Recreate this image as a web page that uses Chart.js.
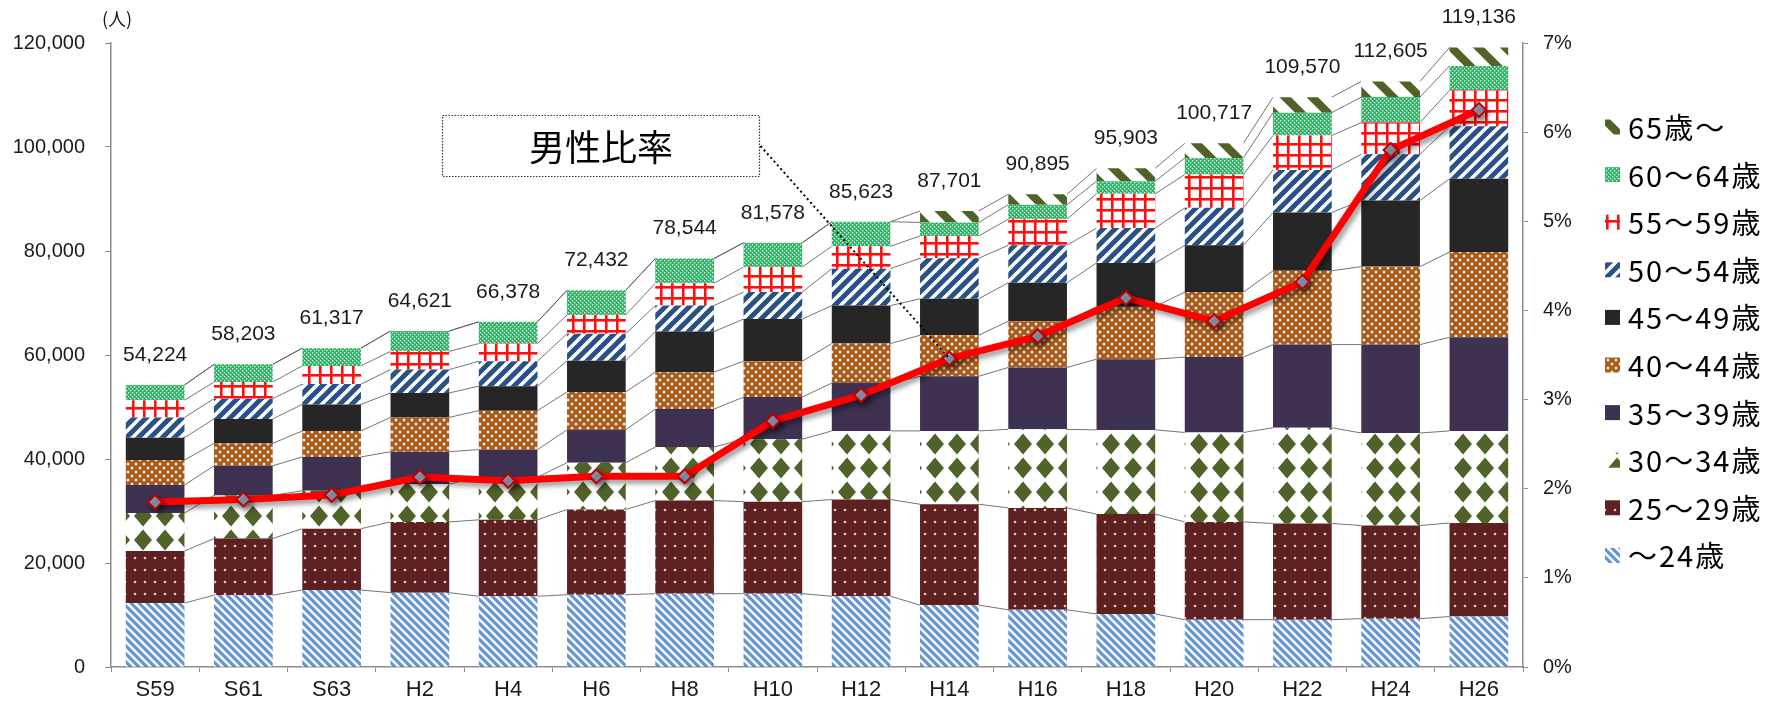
<!DOCTYPE html>
<html><head><meta charset="utf-8">
<script src="https://cdn.jsdelivr.net/npm/chart.js@4"></script>
<style>html,body{margin:0;padding:0;background:#fff;} canvas{display:block;}</style>
</head><body>
<canvas id="c" width="1781" height="703"></canvas>
<script>
// ---------- data ----------
const categories = ['S59','S61','S63','H2','H4','H6','H8','H10','H12','H14','H16','H18','H20','H22','H24','H26'];
const totals = [54224, 58203, 61317, 64621, 66378, 72432, 78544, 81578, 85623, 87701, 90895, 95903, 100717, 109570, 112605, 119136];
const age24   = [12300, 13800, 14800, 14300, 13600, 13900, 14100, 14100, 13600, 11900, 11000, 10200, 9100, 9100, 9300, 9700];
const age25_29 = [10000, 10900, 11800, 13600, 14700, 16400, 17900, 17700, 18600, 19400, 19600, 19200, 18800, 18500, 17900, 18000];
const age30_34 = [7300, 8300, 7300, 7300, 8200, 9000, 10300, 12000, 13200, 14100, 15100, 16200, 17200, 18400, 17800, 17700];
const age35_39 = [5400, 5700, 6500, 6200, 5300, 6300, 7300, 8100, 9200, 10500, 11900, 13600, 14500, 16000, 17000, 18000];
const age40_44 = [4800, 4300, 5000, 6600, 7500, 7300, 7100, 6900, 7600, 7900, 8900, 10100, 12500, 14200, 15000, 16400];
const age45_49 = [4300, 4700, 5100, 4700, 4700, 6000, 7800, 8100, 7300, 7000, 7400, 8400, 9000, 11200, 12700, 14100];
const age50_54 = [3900, 3900, 3900, 4500, 4800, 5200, 5000, 5200, 7100, 7800, 7200, 6700, 7200, 8200, 8900, 10100];
const age55_59 = [3300, 3200, 3500, 3500, 3400, 3600, 4300, 4800, 4300, 4300, 5000, 6600, 6400, 6600, 6100, 6900];
const age60_64 = [2924, 3403, 3417, 3921, 4178, 4732, 4744, 4678, 4723, 2600, 2800, 2400, 3200, 4400, 4900, 4700];
const age65    = [0, 0, 0, 0, 0, 0, 0, 0, 0, 2201, 1995, 2503, 2817, 2970, 3005, 3536];
const maleRatio = [1.85, 1.88, 1.93, 2.13, 2.09, 2.14, 2.14, 2.76, 3.05, 3.46, 3.71, 4.14, 3.88, 4.32, 5.80, 6.25];
const seriesLabels = ['～24歳','25～29歳','30～34歳','35～39歳','40～44歳','45～49歳','50～54歳','55～59歳','60～64歳','65歳～'];
const leftTicksMax = 120000, leftStep = 20000;
const rightTicksMax = 7, rightStep = 1;
const unitLabel = '(人)';
const calloutText = '男性比率';

// ---------- patterns ----------
const FONT = "'Noto Sans CJK JP', 'Liberation Sans', sans-serif";
const NUMFONT = "'Liberation Sans', 'Noto Sans CJK JP', sans-serif";
const mainCtx = document.getElementById('c').getContext('2d');
function makePattern(w, h, draw) {
  const c = document.createElement('canvas'); c.width = w; c.height = h;
  const g = c.getContext('2d'); draw(g, w, h);
  return mainCtx.createPattern(c, 'repeat');
}
function stripes(s, t, color, dir) {
  return makePattern(s, s, (g) => {
    g.fillStyle = '#fff'; g.fillRect(0, 0, s, s);
    g.strokeStyle = color; g.lineWidth = t; g.lineCap = 'square';
    for (const k of [-s, 0, s]) {
      g.beginPath();
      if (dir === '\\') { g.moveTo(k, 0); g.lineTo(k + s, s); }
      else { g.moveTo(k, s); g.lineTo(k + s, 0); }
      g.stroke();
    }
  });
}
const pat24 = stripes(8, 3.2, '#6395d6', '\\');
const pat25 = makePattern(10, 12, (g) => {
  g.fillStyle = '#5e2121'; g.fillRect(0, 0, 10, 12);
  g.fillStyle = '#e6c4c4'; g.beginPath(); g.arc(5, 6, 1.3, 0, Math.PI * 2); g.fill();
});
const pat30 = makePattern(22, 24, (g) => {
  g.fillStyle = '#fff'; g.fillRect(0, 0, 22, 24);
  g.fillStyle = '#4f6228';
  g.beginPath(); g.moveTo(11, 1.5); g.lineTo(20, 12); g.lineTo(11, 22.5); g.lineTo(2, 12); g.closePath(); g.fill();
});
const col35 = '#3f3151';
const pat40 = makePattern(8, 8, (g) => {
  g.fillStyle = '#a65a1c'; g.fillRect(0, 0, 8, 8);
  g.fillStyle = '#f4e4d2';
  for (const [x, y] of [[0,0],[8,0],[0,8],[8,8],[4,4]]) { g.beginPath(); g.arc(x, y, 1.5, 0, Math.PI * 2); g.fill(); }
});
const col45 = '#262626';
const pat50 = stripes(12, 5, '#2a5186', '/');
const pat55 = makePattern(11, 11, (g) => {
  g.fillStyle = '#fff'; g.fillRect(0, 0, 11, 11);
  g.fillStyle = '#ff1010'; g.fillRect(0, 0, 11, 2.6); g.fillRect(0, 0, 2.6, 11);
});
const pat60 = makePattern(4, 4, (g) => {
  g.fillStyle = '#33b268'; g.fillRect(0, 0, 4, 4);
  g.fillStyle = '#e4f6ea'; g.fillRect(0, 0, 1.3, 1.3); g.fillRect(2, 2, 1.3, 1.3);
});
const pat65 = stripes(27, 8, '#4f6228', '\\');

const barData = [age24, age25_29, age30_34, age35_39, age40_44, age45_49, age50_54, age55_59, age60_64, age65];
const barFills = [pat24, pat25, pat30, col35, pat40, col45, pat50, pat55, pat60, pat65];

const datasets = barData.map((d, i) => ({
  type: 'bar', label: seriesLabels[i], data: d, backgroundColor: barFills[i],
  borderWidth: 0, stack: 's', order: 1, yAxisID: 'y',
  barPercentage: 0.665, categoryPercentage: 1.0
}));
datasets.push({
  type: 'line', label: calloutText, data: maleRatio, yAxisID: 'y1', order: 0,
  borderColor: '#ff0000', borderWidth: 7, tension: 0,
  pointStyle: 'rectRot', pointRadius: 7, pointBackgroundColor: '#8b9cb6',
  pointBorderColor: '#c00000', pointBorderWidth: 2
});
const LINE_INDEX = datasets.length - 1;

// ---------- plugins ----------
const seriesLinesPlugin = {
  id: 'seriesLines',
  beforeDatasetsDraw(chart) {
    const ctx = chart.ctx;
    ctx.save();
    ctx.strokeStyle = '#505050'; ctx.lineWidth = 0.8;
    for (let i = 0; i < barData.length; i++) {
      const meta = chart.getDatasetMeta(i);
      for (let j = 0; j < meta.data.length - 1; j++) {
        const a = meta.data[j], b = meta.data[j + 1];
        ctx.beginPath();
        ctx.moveTo(a.x + a.width / 2, a.y);
        ctx.lineTo(b.x - b.width / 2, b.y);
        ctx.stroke();
      }
    }
    ctx.restore();
  }
};
const lineShadowPlugin = {
  id: 'lineShadow',
  beforeDatasetDraw(chart, args) {
    if (args.index !== LINE_INDEX) return;
    const ctx = chart.ctx; ctx.save();
    ctx.shadowColor = 'rgba(0,0,0,0.38)'; ctx.shadowBlur = 5; ctx.shadowOffsetX = 3; ctx.shadowOffsetY = 4;
  },
  afterDatasetDraw(chart, args) {
    if (args.index !== LINE_INDEX) return;
    chart.ctx.restore();
  }
};
const totalsPlugin = {
  id: 'totals',
  afterDatasetsDraw(chart) {
    const ctx = chart.ctx, ys = chart.scales.y, meta = chart.getDatasetMeta(0);
    ctx.save();
    ctx.font = '21px ' + NUMFONT; ctx.fillStyle = '#1a1a1a';
    ctx.textAlign = 'center'; ctx.textBaseline = 'middle';
    totals.forEach((t, j) => {
      ctx.fillText(t.toLocaleString('en-US'), meta.data[j].x, ys.getPixelForValue(t) - 30);
    });
    ctx.restore();
  }
};
const annotPlugin = {
  id: 'annot',
  afterDraw(chart) {
    const ctx = chart.ctx;
    ctx.save();
    // unit label
    ctx.font = '18px ' + FONT; ctx.fillStyle = '#1a1a1a'; ctx.textAlign = 'center'; ctx.textBaseline = 'middle';
    ctx.fillText(unitLabel, 117, 19);
    // callout box
    const bx = 442.5, by = 115.5, bw = 317, bh = 61;
    ctx.fillStyle = '#fff'; ctx.fillRect(bx, by, bw, bh);
    ctx.setLineDash([1.5, 1.5]); ctx.strokeStyle = '#333'; ctx.lineWidth = 1.2;
    ctx.strokeRect(bx, by, bw, bh);
    ctx.setLineDash([]);
    ctx.font = '36px ' + FONT; ctx.fillStyle = '#000';
    ctx.fillText(calloutText, bx + bw / 2, by + bh / 2 + 1);
    // leader line to H14 point
    const p = chart.getDatasetMeta(LINE_INDEX).data[9];
    ctx.setLineDash([2, 3]); ctx.strokeStyle = '#000'; ctx.lineWidth = 2;
    ctx.beginPath(); ctx.moveTo(bx + bw + 1, 146); ctx.lineTo(p.x, p.y); ctx.stroke();
    ctx.setLineDash([]);
    // legend (reversed)
    ctx.font = '29px ' + FONT; ctx.textAlign = 'left'; ctx.textBaseline = 'middle';
    if ('letterSpacing' in ctx) ctx.letterSpacing = '2px';
    for (let k = 0; k < barData.length; k++) {
      const i = barData.length - 1 - k;
      const cy = 127 + k * 47.6;
      ctx.fillStyle = barFills[i]; ctx.fillRect(1605, cy - 7.5, 15, 15);
      ctx.fillStyle = '#000'; ctx.fillText(seriesLabels[i], 1628, cy + 1);
    }
    ctx.restore();
  }
};

// ---------- chart ----------
Chart.defaults.font.family = NUMFONT;
const axisColor = '#8c8c8c';
new Chart(document.getElementById('c'), {
  data: { labels: categories, datasets },
  options: {
    responsive: false, animation: false, devicePixelRatio: 1,
    layout: { padding: { top: 43, right: 1781 - 1523 - 60, bottom: 0, left: 0 } },
    plugins: { legend: { display: false }, tooltip: { enabled: false } },
    scales: {
      x: {
        stacked: true, afterFit: (s) => { s.height = 36; },
        grid: { display: true, drawOnChartArea: false, drawTicks: true, tickLength: 5, color: axisColor, offset: true },
        border: { color: axisColor, width: 1.5 },
        ticks: { font: { size: 22 }, color: '#1a1a1a', padding: 5 }
      },
      y: {
        stacked: true, min: 0, max: leftTicksMax, position: 'left',
        afterFit: (s) => { s.width = 111; },
        grid: { drawOnChartArea: false, drawTicks: true, tickLength: 6, color: axisColor },
        border: { color: axisColor, width: 1.5 },
        ticks: { stepSize: leftStep, font: { size: 20 }, color: '#1a1a1a', padding: 20,
                 callback: (v) => Number(v).toLocaleString('en-US') }
      },
      y1: {
        min: 0, max: rightTicksMax, position: 'right',
        afterFit: (s) => { s.width = 60; },
        grid: { drawOnChartArea: false, drawTicks: true, tickLength: 5, color: axisColor },
        border: { color: axisColor, width: 1.5 },
        ticks: { stepSize: rightStep, font: { size: 20 }, color: '#1a1a1a', padding: 15,
                 callback: (v) => v + '%' }
      }
    }
  },
  plugins: [seriesLinesPlugin, lineShadowPlugin, totalsPlugin, annotPlugin]
});
</script>
</body></html>
